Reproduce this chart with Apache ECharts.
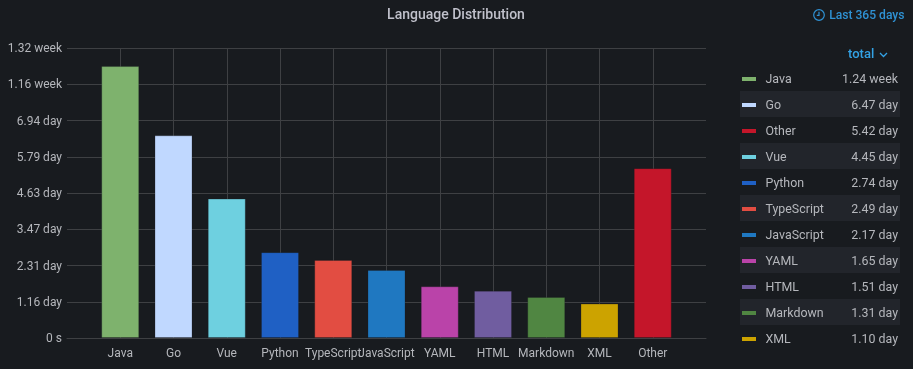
<!DOCTYPE html>
<html>
<head>
<meta charset="utf-8">
<title>Language Distribution</title>
<script src="https://cdn.jsdelivr.net/npm/echarts@6/dist/echarts.min.js"></script>
<style>
  html, body { margin: 0; padding: 0; background: #181b1f; }
  #wrap { position: relative; width: 913px; height: 369px; overflow: hidden; font-family: Roboto, sans-serif; }
  #chart { position: absolute; left: 0; top: 0; width: 913px; height: 369px; }
  #range { position: absolute; right: 8.5px; top: 7px; font-size: 12.1px; font-weight: 500; line-height: 16px; color: #2f92d4; white-space: nowrap; }
  #range svg { vertical-align: -2px; margin-right: 4px; }
  #total { position: absolute; left: 848px; top: 46px; font-size: 13px; font-weight: 500; line-height: 16px; color: #33a2e5; }
  #total svg { margin-left: 5px; vertical-align: 0; }
  #legend { position: absolute; left: 740px; top: 65px; width: 160px; }
  .row { position: relative; height: 26px; line-height: 28px; font-size: 12.4px; color: #b5b7bc; }
  .row:nth-child(even) { background: #22252b; }
  .swatch { position: absolute; left: 2px; top: 12px; width: 14px; height: 4px; }
  .name { position: absolute; left: 25.5px; }
  .val { position: absolute; right: 2px; }
</style>
</head>
<body>
<div id="wrap">
  <div id="chart"></div>
  <div id="range"><svg width="12" height="12" viewBox="0 0 12 12" fill="none" stroke="#2f92d4" stroke-width="1.2"><circle cx="6" cy="6" r="5.3"/><path d="M6 2.8V6.4H3.8"/></svg>Last 365 days</div>
  <div id="total">total<svg width="9" height="6" viewBox="0 0 9 6" fill="none" stroke="#33a2e5" stroke-width="1.3"><path d="M1 1l3.5 3.5L8 1"/></svg></div>
  <div id="legend"></div>
</div>
<script>
// bars, in days
const categories = ["Java", "Go", "Vue", "Python", "TypeScript", "JavaScript", "YAML", "HTML", "Markdown", "XML", "Other"];
const values = [8.68, 6.47, 4.45, 2.74, 2.49, 2.17, 1.65, 1.51, 1.31, 1.10, 5.42];
const colors = ["#7eb26d", "#c0d8ff", "#6ed0e0", "#1f60c4", "#e24d42", "#1f78c1", "#ba43a9", "#705da0", "#508642", "#cca300", "#c4162a"];
const tickLabels = ["0 s", "1.16 day", "2.31 day", "3.47 day", "4.63 day", "5.79 day", "6.94 day", "1.16 week", "1.32 week"];

// legend is sorted by total, not in bar order
const legendNames = ["Java", "Go", "Other", "Vue", "Python", "TypeScript", "JavaScript", "YAML", "HTML", "Markdown", "XML"];
const legendTotals = ["1.24 week", "6.47 day", "5.42 day", "4.45 day", "2.74 day", "2.49 day", "2.17 day", "1.65 day", "1.51 day", "1.31 day", "1.10 day"];

const gridColor = "#3e4043";
const labelColor = "#b5b7bc";

// x axis has one empty slot on each side of the bars
const xData = ["", ...categories, ""];
const barData = [null, ...values.map((v, i) => ({
  value: v,
  itemStyle: { color: colors[i], borderColor: "rgba(24, 27, 31, 0.25)", borderWidth: 1 },
})), null];

const myChart = echarts.init(document.getElementById("chart"));
myChart.setOption({
  backgroundColor: "#181b1f",
  animation: false,
  title: {
    text: "Language Distribution",
    left: 456,
    top: 7,
    textAlign: "center",
    textVerticalAlign: "top",
    padding: 0,
    textStyle: { fontFamily: "Roboto", fontSize: 14, fontWeight: 500, color: "#c0c1cb", lineHeight: 16 },
  },
  grid: { left: 67, right: 207, top: 48, bottom: 31 },
  xAxis: {
    type: "category",
    data: xData,
    boundaryGap: false,
    axisLine: { lineStyle: { color: gridColor } },
    axisTick: { show: false },
    axisLabel: { interval: 0, hideOverlap: false, color: labelColor, fontFamily: "Roboto", fontSize: 12, margin: 10 },
    splitLine: {
      show: true,
      interval: (index) => index > 0 && index < xData.length - 1,
      lineStyle: { color: gridColor },
    },
  },
  yAxis: {
    type: "value",
    min: 0,
    max: 9.256,
    interval: 1.157,
    axisLine: { show: false },
    axisTick: { show: false },
    axisLabel: {
      margin: 5,
      // the extra top padding nudges the text 1px below its grid line
      formatter: (v) => `{t|${tickLabels[Math.round(v / 1.157)]}}`,
      rich: {
        t: { color: labelColor, fontFamily: "Roboto", fontSize: 12, lineHeight: 14, padding: [2, 0, 0, 0] },
      },
    },
    splitLine: { lineStyle: { color: gridColor } },
  },
  series: [{ type: "bar", data: barData, barWidth: 38 }],
});

const legendEl = document.getElementById("legend");
legendNames.forEach((name, i) => {
  const row = document.createElement("div");
  row.className = "row";
  const color = colors[categories.indexOf(name)];
  row.innerHTML = `<span class="swatch" style="background:${color}"></span><span class="name">${name}</span><span class="val">${legendTotals[i]}</span>`;
  legendEl.appendChild(row);
});
</script>
</body>
</html>
